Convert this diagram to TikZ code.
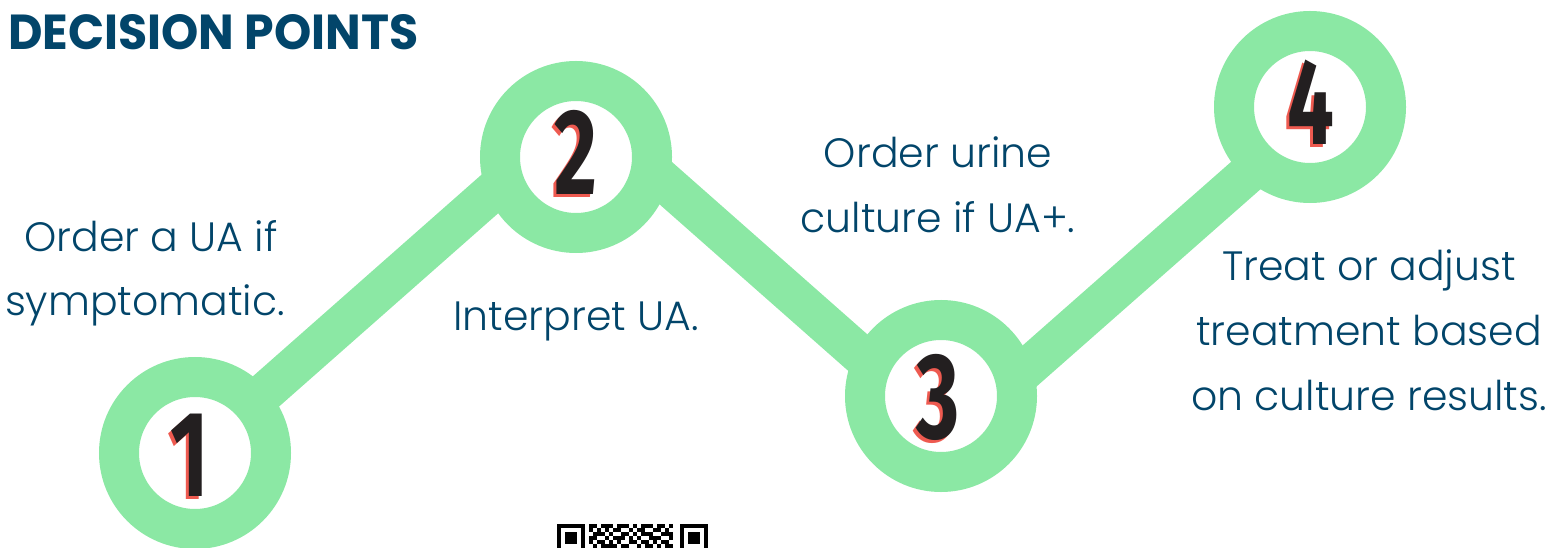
\documentclass[tikz,border=0pt]{standalone}
\usepackage{fontspec}
\usepackage{graphicx}
\setmainfont{Poppins}[UprightFont={* Light}, BoldFont={* Bold}]
\newfontfamily\numfont{Fira Sans}
\definecolor{ringgreen}{HTML}{8BE8A4}
\definecolor{navy}{HTML}{02456A}
\definecolor{numblack}{HTML}{231F20}
\definecolor{numred}{HTML}{EE5A50}
\newcommand{\bignum}[1]{\scalebox{0.68}[1]{\numfont\bfseries\fontsize{122}{122}\selectfont #1}}
\tikzset{
  ring/.style={circle, draw=ringgreen, line width=40pt, fill=white, minimum size=152pt, inner sep=0pt, outer sep=0pt},
  link/.style={draw=ringgreen, line width=40pt},
  bodytext/.style={text=navy, font=\fontsize{41}{41}\selectfont, anchor=base, inner sep=0pt},
  numtext/.style={text=numblack, inner sep=0pt},
  numshadow/.style={text=numred, inner sep=0pt},
  qr/.style={fill=black}
}
\begin{document}
\begin{tikzpicture}[x=1pt,y=-1pt]
\useasboundingbox (0,0) rectangle (1564,548);
% link end points
\coordinate (a1) at (195,454);
\coordinate (a2) at (576,118);
\coordinate (b2) at (576,104);
\coordinate (b3) at (941,426);
\coordinate (c3) at (941,444);
\coordinate (c4) at (1310,119);
\draw[link] (a1) -- (a2);
\draw[link] (b2) -- (b3);
\draw[link] (c3) -- (c4);
% rings
\node[ring] (r1) at (195,453) {};
\node[ring] (r2) at (576,157) {};
\node[ring] (r3) at (941,396) {};
\node[ring] (r4) at (1310,107) {};
% numbers
\node[numshadow] (n1s) at (187,458) {\bignum{1}};
\node[numtext] (n1) at (190,455) {\bignum{1}};
\node[numshadow] (n2s) at (573,155) {\bignum{2}};
\node[numtext] (n2) at (576,152) {\bignum{2}};
\node[numshadow] (n3s) at (935,400) {\bignum{3}};
\node[numtext] (n3) at (938,397) {\bignum{3}};
\node[numshadow] (n4s) at (1308,105) {\bignum{4}};
\node[numtext] (n4) at (1311,102) {\bignum{4}};
% title
\node[anchor=base west, inner sep=0pt, text=navy] (title) at (8,50) {\resizebox{410pt}{35pt}{\bfseries DECISION POINTS}};
% texts
\node[bodytext] (t1a) at (151,252) {Order a UA if};
\node[bodytext] (t1b) at (145,316) {symptomatic.};
\node[bodytext] (t2) at (576,330) {Interpret UA.};
\node[bodytext] (t3a) at (938,168) {Order urine};
\node[bodytext] (t3b) at (938,233) {culture if UA+.};
\node[bodytext] (t4a) at (1369,280) {Treat or adjust};
\node[bodytext] (t4b) at (1369,345) {treatment based};
\node[bodytext] (t4c) at (1369,410) {on culture results.};
% QR code (cut off at the bottom)
\begin{scope}
\clip (0,0) rectangle (1564,548);
\foreach \x in {557,680} {
  \fill[qr] (\x,524) rectangle ++(28,28);
  \fill[white] (\x+4,528) rectangle ++(20,20);
  \fill[qr] (\x+8,532) rectangle ++(12,12);
}
\foreach \r/\cols in {
  0/{0,1,3,4,5,7,8,9,11,13,14,15,17,18,20},
  1/{0,2,4,6,7,10,12,13,16,17,19},
  2/{1,2,3,5,8,9,11,13,14,15,18,19,20},
  3/{0,1,4,6,7,8,10,12,15,16,17,20},
  4/{0,2,3,5,7,10,11,13,14,16,18,19},
  5/{1,3,4,5,6,8,9,12,14,15,17,19,20}} {
  \foreach \c in \cols {
    \fill[qr] ({557+(8+\c)*4},{524+\r*4}) rectangle ++(4,4);
  }
}
\end{scope}
\end{tikzpicture}
\end{document}
